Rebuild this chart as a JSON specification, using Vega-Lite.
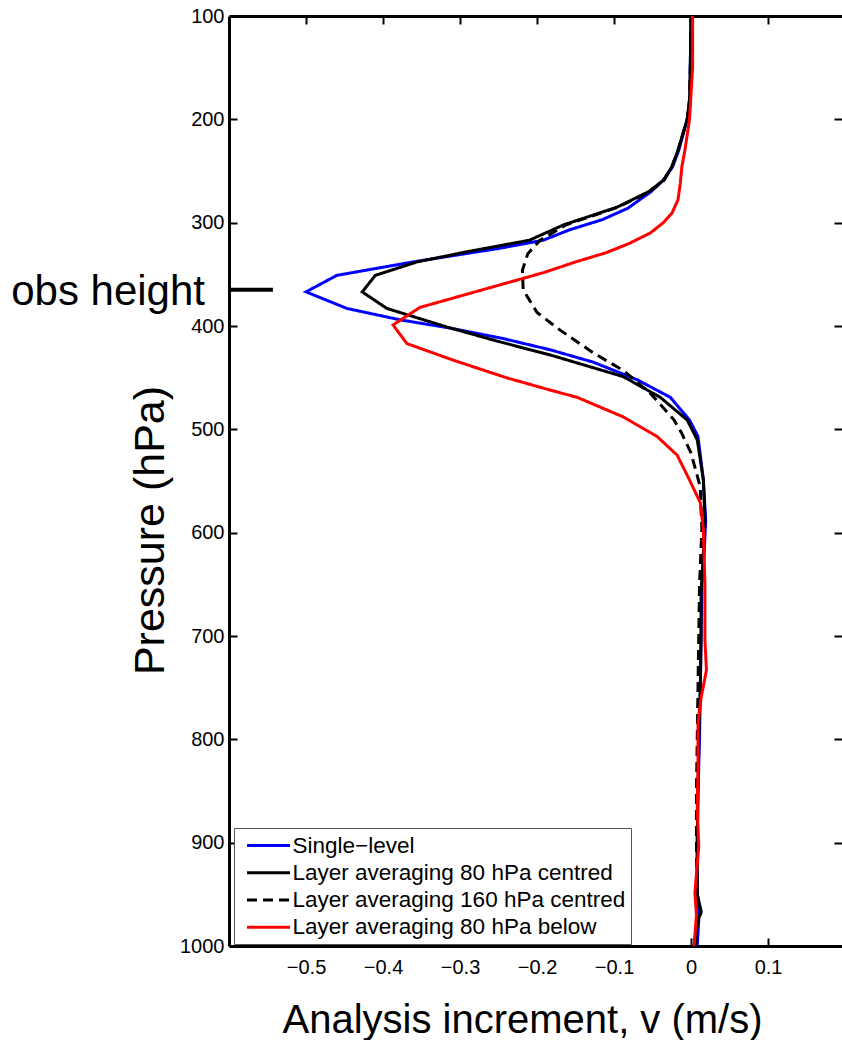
{
  "$schema": "https://vega.github.io/schema/vega-lite/v6.json",
  "autosize": {"type": "none"},
  "padding": {"left": 229, "top": 16, "right": 0, "bottom": 94},
  "width": 613,
  "height": 930,
  "config": {
    "font": "Liberation Sans",
    "view": {"stroke": null},
    "axis": {"grid": false, "domainColor": "#000", "tickColor": "#000", "labelColor": "#000", "titleColor": "#000", "titleFontWeight": "normal", "labelFont": "Liberation Sans", "titleFont": "Liberation Sans"},
    "legend": {"symbolType": "M-2,0H2", "symbolSize": 462, "symbolStrokeWidth": 3, "labelFontSize": 22.5, "labelColor": "#000", "labelLimit": 500, "padding": 5, "rowPadding": 3.25, "symbolOffset": 17, "labelOffset": 11.5, "strokeColor": "#555", "fillColor": "#ffffff"}
  },
  "datasets": {
    "profiles": [
      {"series": "Single\u2212level", "p": 100, "v": 0.0},
      {"series": "Single\u2212level", "p": 150, "v": -0.001},
      {"series": "Single\u2212level", "p": 181, "v": -0.001},
      {"series": "Single\u2212level", "p": 200, "v": -0.005},
      {"series": "Single\u2212level", "p": 230, "v": -0.016},
      {"series": "Single\u2212level", "p": 246, "v": -0.024},
      {"series": "Single\u2212level", "p": 259, "v": -0.036},
      {"series": "Single\u2212level", "p": 270, "v": -0.052},
      {"series": "Single\u2212level", "p": 286, "v": -0.082},
      {"series": "Single\u2212level", "p": 297, "v": -0.115},
      {"series": "Single\u2212level", "p": 307, "v": -0.158},
      {"series": "Single\u2212level", "p": 317, "v": -0.192},
      {"series": "Single\u2212level", "p": 325, "v": -0.250},
      {"series": "Single\u2212level", "p": 332, "v": -0.310},
      {"series": "Single\u2212level", "p": 338, "v": -0.361},
      {"series": "Single\u2212level", "p": 351, "v": -0.460},
      {"series": "Single\u2212level", "p": 367, "v": -0.500},
      {"series": "Single\u2212level", "p": 383, "v": -0.447},
      {"series": "Single\u2212level", "p": 394, "v": -0.378},
      {"series": "Single\u2212level", "p": 402, "v": -0.313},
      {"series": "Single\u2212level", "p": 412, "v": -0.245},
      {"series": "Single\u2212level", "p": 423, "v": -0.183},
      {"series": "Single\u2212level", "p": 435, "v": -0.127},
      {"series": "Single\u2212level", "p": 452, "v": -0.070},
      {"series": "Single\u2212level", "p": 469, "v": -0.027},
      {"series": "Single\u2212level", "p": 491, "v": -0.002},
      {"series": "Single\u2212level", "p": 507, "v": 0.009},
      {"series": "Single\u2212level", "p": 549, "v": 0.016},
      {"series": "Single\u2212level", "p": 588, "v": 0.019},
      {"series": "Single\u2212level", "p": 620, "v": 0.017},
      {"series": "Single\u2212level", "p": 650, "v": 0.014},
      {"series": "Single\u2212level", "p": 700, "v": 0.013},
      {"series": "Single\u2212level", "p": 750, "v": 0.012},
      {"series": "Single\u2212level", "p": 800, "v": 0.011},
      {"series": "Single\u2212level", "p": 850, "v": 0.009},
      {"series": "Single\u2212level", "p": 900, "v": 0.008},
      {"series": "Single\u2212level", "p": 950, "v": 0.008},
      {"series": "Single\u2212level", "p": 975, "v": 0.010},
      {"series": "Single\u2212level", "p": 1000, "v": 0.008},

      {"series": "Layer averaging 80 hPa centred", "p": 100, "v": 0.0},
      {"series": "Layer averaging 80 hPa centred", "p": 150, "v": -0.001},
      {"series": "Layer averaging 80 hPa centred", "p": 181, "v": -0.002},
      {"series": "Layer averaging 80 hPa centred", "p": 200, "v": -0.005},
      {"series": "Layer averaging 80 hPa centred", "p": 230, "v": -0.017},
      {"series": "Layer averaging 80 hPa centred", "p": 246, "v": -0.025},
      {"series": "Layer averaging 80 hPa centred", "p": 259, "v": -0.036},
      {"series": "Layer averaging 80 hPa centred", "p": 270, "v": -0.055},
      {"series": "Layer averaging 80 hPa centred", "p": 285, "v": -0.096},
      {"series": "Layer averaging 80 hPa centred", "p": 302, "v": -0.165},
      {"series": "Layer averaging 80 hPa centred", "p": 317, "v": -0.210},
      {"series": "Layer averaging 80 hPa centred", "p": 328, "v": -0.290},
      {"series": "Layer averaging 80 hPa centred", "p": 338, "v": -0.356},
      {"series": "Layer averaging 80 hPa centred", "p": 351, "v": -0.410},
      {"series": "Layer averaging 80 hPa centred", "p": 367, "v": -0.427},
      {"series": "Layer averaging 80 hPa centred", "p": 383, "v": -0.395},
      {"series": "Layer averaging 80 hPa centred", "p": 401, "v": -0.317},
      {"series": "Layer averaging 80 hPa centred", "p": 415, "v": -0.250},
      {"series": "Layer averaging 80 hPa centred", "p": 428, "v": -0.183},
      {"series": "Layer averaging 80 hPa centred", "p": 449, "v": -0.088},
      {"series": "Layer averaging 80 hPa centred", "p": 469, "v": -0.040},
      {"series": "Layer averaging 80 hPa centred", "p": 491, "v": -0.005},
      {"series": "Layer averaging 80 hPa centred", "p": 510, "v": 0.008},
      {"series": "Layer averaging 80 hPa centred", "p": 549, "v": 0.016},
      {"series": "Layer averaging 80 hPa centred", "p": 588, "v": 0.018},
      {"series": "Layer averaging 80 hPa centred", "p": 620, "v": 0.016},
      {"series": "Layer averaging 80 hPa centred", "p": 660, "v": 0.013},
      {"series": "Layer averaging 80 hPa centred", "p": 700, "v": 0.013},
      {"series": "Layer averaging 80 hPa centred", "p": 750, "v": 0.012},
      {"series": "Layer averaging 80 hPa centred", "p": 800, "v": 0.010},
      {"series": "Layer averaging 80 hPa centred", "p": 850, "v": 0.009},
      {"series": "Layer averaging 80 hPa centred", "p": 900, "v": 0.008},
      {"series": "Layer averaging 80 hPa centred", "p": 950, "v": 0.008},
      {"series": "Layer averaging 80 hPa centred", "p": 966, "v": 0.013},
      {"series": "Layer averaging 80 hPa centred", "p": 978, "v": 0.008},
      {"series": "Layer averaging 80 hPa centred", "p": 1000, "v": 0.006},

      {"series": "Layer averaging 160 hPa centred", "p": 100, "v": 0.0},
      {"series": "Layer averaging 160 hPa centred", "p": 150, "v": -0.001},
      {"series": "Layer averaging 160 hPa centred", "p": 181, "v": -0.002},
      {"series": "Layer averaging 160 hPa centred", "p": 200, "v": -0.005},
      {"series": "Layer averaging 160 hPa centred", "p": 230, "v": -0.017},
      {"series": "Layer averaging 160 hPa centred", "p": 246, "v": -0.025},
      {"series": "Layer averaging 160 hPa centred", "p": 259, "v": -0.035},
      {"series": "Layer averaging 160 hPa centred", "p": 270, "v": -0.054},
      {"series": "Layer averaging 160 hPa centred", "p": 285, "v": -0.095},
      {"series": "Layer averaging 160 hPa centred", "p": 302, "v": -0.162},
      {"series": "Layer averaging 160 hPa centred", "p": 317, "v": -0.196},
      {"series": "Layer averaging 160 hPa centred", "p": 330, "v": -0.212},
      {"series": "Layer averaging 160 hPa centred", "p": 346, "v": -0.219},
      {"series": "Layer averaging 160 hPa centred", "p": 365, "v": -0.218},
      {"series": "Layer averaging 160 hPa centred", "p": 387, "v": -0.200},
      {"series": "Layer averaging 160 hPa centred", "p": 404, "v": -0.170},
      {"series": "Layer averaging 160 hPa centred", "p": 426, "v": -0.127},
      {"series": "Layer averaging 160 hPa centred", "p": 443, "v": -0.088},
      {"series": "Layer averaging 160 hPa centred", "p": 465, "v": -0.053},
      {"series": "Layer averaging 160 hPa centred", "p": 491, "v": -0.022},
      {"series": "Layer averaging 160 hPa centred", "p": 504, "v": -0.012},
      {"series": "Layer averaging 160 hPa centred", "p": 523, "v": 0.000},
      {"series": "Layer averaging 160 hPa centred", "p": 556, "v": 0.012},
      {"series": "Layer averaging 160 hPa centred", "p": 597, "v": 0.014},
      {"series": "Layer averaging 160 hPa centred", "p": 650, "v": 0.011},
      {"series": "Layer averaging 160 hPa centred", "p": 700, "v": 0.010},
      {"series": "Layer averaging 160 hPa centred", "p": 750, "v": 0.009},
      {"series": "Layer averaging 160 hPa centred", "p": 800, "v": 0.008},
      {"series": "Layer averaging 160 hPa centred", "p": 850, "v": 0.007},
      {"series": "Layer averaging 160 hPa centred", "p": 900, "v": 0.007},
      {"series": "Layer averaging 160 hPa centred", "p": 950, "v": 0.008},
      {"series": "Layer averaging 160 hPa centred", "p": 968, "v": 0.013},
      {"series": "Layer averaging 160 hPa centred", "p": 985, "v": 0.006},
      {"series": "Layer averaging 160 hPa centred", "p": 1000, "v": 0.004},

      {"series": "Layer averaging 80 hPa below", "p": 100, "v": 0.002},
      {"series": "Layer averaging 80 hPa below", "p": 150, "v": 0.002},
      {"series": "Layer averaging 80 hPa below", "p": 200, "v": -0.002},
      {"series": "Layer averaging 80 hPa below", "p": 230, "v": -0.008},
      {"series": "Layer averaging 80 hPa below", "p": 246, "v": -0.012},
      {"series": "Layer averaging 80 hPa below", "p": 262, "v": -0.014},
      {"series": "Layer averaging 80 hPa below", "p": 278, "v": -0.017},
      {"series": "Layer averaging 80 hPa below", "p": 291, "v": -0.025},
      {"series": "Layer averaging 80 hPa below", "p": 300, "v": -0.036},
      {"series": "Layer averaging 80 hPa below", "p": 310, "v": -0.053},
      {"series": "Layer averaging 80 hPa below", "p": 320, "v": -0.080},
      {"series": "Layer averaging 80 hPa below", "p": 329, "v": -0.110},
      {"series": "Layer averaging 80 hPa below", "p": 338, "v": -0.150},
      {"series": "Layer averaging 80 hPa below", "p": 348, "v": -0.190},
      {"series": "Layer averaging 80 hPa below", "p": 382, "v": -0.352},
      {"series": "Layer averaging 80 hPa below", "p": 399, "v": -0.387},
      {"series": "Layer averaging 80 hPa below", "p": 417, "v": -0.369},
      {"series": "Layer averaging 80 hPa below", "p": 433, "v": -0.309},
      {"series": "Layer averaging 80 hPa below", "p": 450, "v": -0.240},
      {"series": "Layer averaging 80 hPa below", "p": 462, "v": -0.183},
      {"series": "Layer averaging 80 hPa below", "p": 469, "v": -0.148},
      {"series": "Layer averaging 80 hPa below", "p": 488, "v": -0.088},
      {"series": "Layer averaging 80 hPa below", "p": 507, "v": -0.044},
      {"series": "Layer averaging 80 hPa below", "p": 525, "v": -0.018},
      {"series": "Layer averaging 80 hPa below", "p": 549, "v": -0.002},
      {"series": "Layer averaging 80 hPa below", "p": 571, "v": 0.012},
      {"series": "Layer averaging 80 hPa below", "p": 597, "v": 0.016},
      {"series": "Layer averaging 80 hPa below", "p": 650, "v": 0.018},
      {"series": "Layer averaging 80 hPa below", "p": 704, "v": 0.018},
      {"series": "Layer averaging 80 hPa below", "p": 733, "v": 0.020},
      {"series": "Layer averaging 80 hPa below", "p": 760, "v": 0.013},
      {"series": "Layer averaging 80 hPa below", "p": 784, "v": 0.009},
      {"series": "Layer averaging 80 hPa below", "p": 830, "v": 0.009},
      {"series": "Layer averaging 80 hPa below", "p": 866, "v": 0.008},
      {"series": "Layer averaging 80 hPa below", "p": 904, "v": 0.010},
      {"series": "Layer averaging 80 hPa below", "p": 930, "v": 0.007},
      {"series": "Layer averaging 80 hPa below", "p": 949, "v": 0.005},
      {"series": "Layer averaging 80 hPa below", "p": 970, "v": 0.007},
      {"series": "Layer averaging 80 hPa below", "p": 1000, "v": 0.004}
    ],
    "obs": [
      {"p": 365, "v0": -0.6, "v1": -0.543, "label": "obs height"}
    ]
  },
  "resolve": {"axis": {"x": "independent", "y": "independent"}},
  "layer": [
    {
      "data": {"name": "profiles"},
      "mark": {"type": "line", "strokeWidth": 3, "clip": true},
      "encoding": {
        "x": {"field": "v", "type": "quantitative",
          "scale": {"domain": [-0.6, 0.196], "nice": false, "zero": false},
          "axis": {"orient": "bottom", "values": [-0.5, -0.4, -0.3, -0.2, -0.1, 0, 0.1], "format": "~g", "domainWidth": 3, "tickWidth": 2, "tickSize": -8, "labelPadding": 19, "labelFontSize": 20, "labelFlush": false, "title": "Analysis increment, v (m/s)", "titleFontSize": 40, "titleX": 293, "titleY": 86, "titleBaseline": "alphabetic", "titleAlign": "center"}},
        "y": {"field": "p", "type": "quantitative",
          "scale": {"domain": [100, 1000], "reverse": true, "nice": false, "zero": false},
          "axis": {"orient": "left", "values": [100, 200, 300, 400, 500, 600, 700, 800, 900, 1000], "format": "d", "domainWidth": 3, "tickWidth": 2, "tickSize": -8, "labelPadding": 13, "labelFontSize": 20, "labelFlush": false, "title": "Pressure (hPa)", "titleFontSize": 43, "titleX": -66, "titleY": 514, "titleBaseline": "alphabetic", "titleAlign": "center", "titleAngle": -90}},
        "color": {"field": "series", "type": "nominal",
          "scale": {"domain": ["Single\u2212level", "Layer averaging 80 hPa centred", "Layer averaging 160 hPa centred", "Layer averaging 80 hPa below"], "range": ["#0000ff", "#000000", "#000000", "#ff0000"]},
          "legend": {"title": null, "orient": "none", "legendX": 5, "legendY": 812}},
        "strokeDash": {"field": "series", "type": "nominal",
          "scale": {"domain": ["Single\u2212level", "Layer averaging 80 hPa centred", "Layer averaging 160 hPa centred", "Layer averaging 80 hPa below"], "range": [[1, 0], [1, 0], [10, 6], [1, 0]]},
          "legend": {"title": null, "orient": "none", "legendX": 5, "legendY": 812}},
        "order": {"field": "p", "type": "quantitative"}
      }
    },
    {
      "data": {"name": "obs"},
      "mark": {"type": "rule", "strokeWidth": 4, "color": "#000"},
      "encoding": {
        "x": {"field": "v0", "type": "quantitative",
          "scale": {"domain": [-0.6, 0.196], "nice": false, "zero": false},
          "axis": {"orient": "top", "values": [-0.5, -0.4, -0.3, -0.2, -0.1, 0, 0.1], "labels": false, "domainWidth": 3, "tickWidth": 2, "tickSize": -8, "title": null}},
        "x2": {"field": "v1"},
        "y": {"field": "p", "type": "quantitative",
          "scale": {"domain": [100, 1000], "reverse": true, "nice": false, "zero": false},
          "axis": {"orient": "right", "values": [200, 300, 400, 500, 600, 700, 800, 900], "labels": false, "domain": false, "tickWidth": 2, "tickSize": -8, "title": null}}
      }
    },
    {
      "data": {"name": "obs"},
      "mark": {"type": "text", "align": "right", "baseline": "alphabetic", "fontSize": 42, "dx": -24, "dy": 15, "color": "#000"},
      "encoding": {
        "x": {"field": "v0", "type": "quantitative", "axis": null},
        "y": {"field": "p", "type": "quantitative", "axis": null},
        "text": {"field": "label"}
      }
    }
  ]
}
